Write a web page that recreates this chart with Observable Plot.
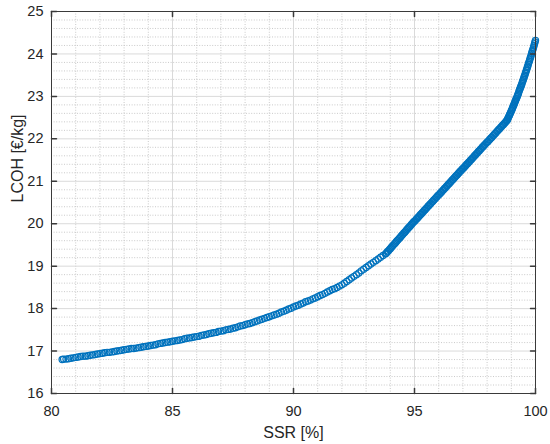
<!DOCTYPE html>
<html>
<head>
<meta charset="utf-8">
<script src="https://cdn.jsdelivr.net/npm/d3@7"></script>
<script src="https://cdn.jsdelivr.net/npm/@observablehq/plot@0.6"></script>
<style>
  html, body { margin: 0; padding: 0; background: #fff; }
  #chart { width: 550px; height: 444px; }
</style>
</head>
<body>
<div id="chart"></div>
<script>
// SSR [%] values
const ssr = [
  80.44, 80.5, 80.6, 80.7, 80.8, 80.9, 81.0, 81.1, 81.2, 81.3, 81.4, 81.5, 81.6, 81.7, 81.8, 81.9,
  82.0, 82.1, 82.2, 82.3, 82.4, 82.5, 82.6, 82.7, 82.8, 82.9, 83.0, 83.1, 83.2, 83.3, 83.4, 83.5,
  83.6, 83.7, 83.8, 83.9, 84.0, 84.1, 84.2, 84.3, 84.4, 84.5, 84.6, 84.7, 84.8, 84.9, 85.0, 85.1,
  85.2, 85.3, 85.4, 85.5, 85.6, 85.7, 85.8, 85.9, 86.0, 86.1, 86.2, 86.3, 86.4, 86.5, 86.6, 86.7,
  86.8, 86.9, 87.0, 87.1, 87.2, 87.3, 87.4, 87.5, 87.6, 87.7, 87.8, 87.9, 88.0, 88.1, 88.2, 88.3,
  88.4, 88.5, 88.6, 88.7, 88.8, 88.9, 89.0, 89.1, 89.2, 89.3, 89.4, 89.5, 89.6, 89.7, 89.8, 89.9,
  90.0, 90.1, 90.2, 90.3, 90.4, 90.5, 90.6, 90.7, 90.8, 90.9, 91.0, 91.1, 91.2, 91.3, 91.4, 91.5,
  91.6, 91.7, 91.8, 91.9, 92.0, 92.1, 92.2, 92.3, 92.4, 92.5, 92.6, 92.7, 92.8, 92.9, 93.0, 93.1,
  93.2, 93.3, 93.4, 93.5, 93.6, 93.7, 93.8,
  93.84, 93.88, 93.92, 93.96, 94.00, 94.04, 94.08, 94.12, 94.16, 94.20, 94.24, 94.28, 94.32, 94.36,
  94.40, 94.44, 94.48, 94.52, 94.56, 94.60, 94.64, 94.68, 94.72, 94.76, 94.80, 94.84, 94.88, 94.92,
  94.96, 95.00, 95.04, 95.08, 95.12, 95.16, 95.20, 95.24, 95.28, 95.32, 95.36, 95.40, 95.44, 95.48,
  95.52, 95.56, 95.60, 95.64, 95.68, 95.72, 95.76, 95.80, 95.84, 95.88, 95.92, 95.96, 96.00, 96.04,
  96.08, 96.12, 96.16, 96.20, 96.24, 96.28, 96.32, 96.36, 96.40, 96.44, 96.48, 96.52, 96.56, 96.60,
  96.64, 96.68, 96.72, 96.76, 96.80, 96.84, 96.88, 96.92, 96.96, 97.00, 97.04, 97.08, 97.12, 97.16,
  97.20, 97.24, 97.28, 97.32, 97.36, 97.40, 97.44, 97.48, 97.52, 97.56, 97.60, 97.64, 97.68, 97.72,
  97.76, 97.80, 97.84, 97.88, 97.92, 97.96, 98.00, 98.04, 98.08, 98.12, 98.16, 98.20, 98.24, 98.28,
  98.32, 98.36, 98.40, 98.44, 98.48, 98.52, 98.56, 98.60, 98.64, 98.68, 98.72, 98.76, 98.80,
  98.82, 98.84, 98.86, 98.88, 98.90, 98.92, 98.94, 98.96, 98.98, 99.00, 99.02, 99.04, 99.06, 99.08,
  99.10, 99.12, 99.14, 99.16, 99.18, 99.20, 99.22, 99.24, 99.26, 99.28, 99.30, 99.32, 99.34, 99.36,
  99.38, 99.40, 99.42, 99.44, 99.46, 99.48, 99.50, 99.52, 99.54, 99.56, 99.58, 99.60, 99.62, 99.64,
  99.66, 99.68, 99.70, 99.72, 99.74, 99.76, 99.78, 99.80, 99.82, 99.84, 99.86, 99.88, 99.90, 99.92,
  99.94, 99.96, 99.98, 100.00
];
// LCOH [€/kg] values
const lcoh = [
  16.80, 16.81, 16.81, 16.82, 16.83, 16.84, 16.85, 16.86, 16.87, 16.88, 16.88, 16.89, 16.90, 16.91, 16.92, 16.93,
  16.94, 16.95, 16.96, 16.97, 16.97, 16.98, 16.99, 17.00, 17.01, 17.02, 17.03, 17.04, 17.05, 17.06, 17.06, 17.07,
  17.08, 17.09, 17.10, 17.11, 17.12, 17.13, 17.14, 17.15, 17.17, 17.18, 17.19, 17.20, 17.21, 17.22, 17.23, 17.24,
  17.25, 17.26, 17.27, 17.29, 17.30, 17.31, 17.32, 17.33, 17.34, 17.35, 17.37, 17.38, 17.39, 17.41, 17.42, 17.43,
  17.44, 17.46, 17.47, 17.48, 17.50, 17.51, 17.52, 17.54, 17.55, 17.57, 17.59, 17.60, 17.62, 17.64, 17.65, 17.67,
  17.69, 17.71, 17.73, 17.75, 17.77, 17.79, 17.81, 17.83, 17.85, 17.87, 17.89, 17.92, 17.94, 17.96, 17.99, 18.01,
  18.04, 18.06, 18.08, 18.11, 18.13, 18.16, 18.18, 18.20, 18.23, 18.25, 18.28, 18.31, 18.33, 18.36, 18.39, 18.42,
  18.45, 18.47, 18.50, 18.53, 18.56, 18.60, 18.64, 18.68, 18.72, 18.76, 18.80, 18.84, 18.89, 18.93, 18.97, 19.01,
  19.05, 19.09, 19.13, 19.17, 19.21, 19.25, 19.29,
  19.31, 19.34, 19.36, 19.39, 19.41, 19.44, 19.47, 19.49, 19.52, 19.54, 19.57, 19.60, 19.62, 19.65,
  19.67, 19.70, 19.73, 19.75, 19.78, 19.80, 19.83, 19.86, 19.88, 19.91, 19.93, 19.96, 19.99, 20.01,
  20.04, 20.06, 20.08, 20.11, 20.13, 20.16, 20.18, 20.21, 20.23, 20.26, 20.28, 20.31, 20.33, 20.36,
  20.38, 20.41, 20.43, 20.46, 20.48, 20.51, 20.53, 20.56, 20.58, 20.61, 20.63, 20.66, 20.68, 20.70,
  20.73, 20.75, 20.78, 20.80, 20.83, 20.85, 20.88, 20.90, 20.93, 20.95, 20.98, 21.00, 21.03, 21.05,
  21.08, 21.10, 21.13, 21.15, 21.18, 21.20, 21.23, 21.25, 21.28, 21.30, 21.32, 21.35, 21.37, 21.40,
  21.42, 21.45, 21.47, 21.50, 21.52, 21.55, 21.57, 21.60, 21.62, 21.65, 21.67, 21.70, 21.72, 21.75,
  21.77, 21.80, 21.82, 21.85, 21.87, 21.90, 21.92, 21.94, 21.97, 21.99, 22.02, 22.04, 22.07, 22.09,
  22.12, 22.14, 22.17, 22.19, 22.22, 22.24, 22.27, 22.29, 22.32, 22.34, 22.37, 22.39, 22.42,
  22.43, 22.45, 22.48, 22.50, 22.53, 22.55, 22.58, 22.60, 22.63, 22.66, 22.68, 22.71, 22.74, 22.77,
  22.79, 22.82, 22.85, 22.88, 22.91, 22.94, 22.96, 22.99, 23.02, 23.05, 23.08, 23.12, 23.15, 23.18,
  23.21, 23.24, 23.27, 23.30, 23.34, 23.37, 23.40, 23.44, 23.47, 23.50, 23.54, 23.57, 23.61, 23.64,
  23.68, 23.71, 23.75, 23.79, 23.82, 23.86, 23.90, 23.93, 23.97, 24.01, 24.05, 24.08, 24.12, 24.16,
  24.20, 24.24, 24.28, 24.32
];
const xTicks = [80, 85, 90, 95, 100];
const yTicks = [16, 17, 18, 19, 20, 21, 22, 23, 24, 25];
const xMinor = [81, 82, 83, 84, 86, 87, 88, 89, 91, 92, 93, 94, 96, 97, 98, 99];
const yMinor = [
  16.2, 16.4, 16.6, 16.8, 17.2, 17.4, 17.6, 17.8, 18.2, 18.4, 18.6, 18.8,
  19.2, 19.4, 19.6, 19.8, 20.2, 20.4, 20.6, 20.8, 21.2, 21.4, 21.6, 21.8,
  22.2, 22.4, 22.6, 22.8, 23.2, 23.4, 23.6, 23.8, 24.2, 24.4, 24.6, 24.8
];
const xLabel = "SSR [%]";
const yLabel = "LCOH [€/kg]";

const data = ssr.map((s, i) => ({ssr: s, lcoh: lcoh[i]}));

const axisColor = "#262626";
const boxColor = "#3a3a3a";
const tickLine = {draw(context, l) { context.moveTo(0, 0); context.lineTo(0, -l); }};
const xMin = xTicks[0], xMax = xTicks[xTicks.length - 1];
const yMin = yTicks[0], yMax = yTicks[yTicks.length - 1];

const chart = Plot.plot({
  width: 550,
  height: 444,
  marginLeft: 51,
  marginRight: 15,
  marginTop: 11,
  marginBottom: 51,
  x: {domain: [xMin, xMax], label: null},
  y: {domain: [yMin, yMax], label: null},
  style: {
    fontFamily: "'Liberation Sans', Arial, Helvetica, sans-serif",
    fontSize: "14.5px",
    color: axisColor,
    background: "#ffffff",
    overflow: "visible"
  },
  marks: [
    Plot.ruleX(xMinor, {stroke: "#bcbcbc", strokeWidth: 0.8, strokeDasharray: "1,1.6"}),
    Plot.ruleY(yMinor, {stroke: "#bcbcbc", strokeWidth: 0.8, strokeDasharray: "1,1.6"}),
    Plot.ruleX(xTicks, {stroke: "#dadada", strokeWidth: 1}),
    Plot.ruleY(yTicks, {stroke: "#dadada", strokeWidth: 1}),
    Plot.dot(data, {x: "ssr", y: "lcoh", r: 3.1, stroke: "#0072BD", fill: "none", strokeWidth: 1.2}),
    Plot.frame({stroke: boxColor, strokeWidth: 1}),
    // inward ticks on all four sides (MATLAB box style)
    Plot.vector(xTicks, {x: d => d, y: yMin, length: 5, rotate: 0, anchor: "start", shape: tickLine, stroke: boxColor}),
    Plot.vector(xTicks, {x: d => d, y: yMax, length: 5, rotate: 180, anchor: "start", shape: tickLine, stroke: boxColor}),
    Plot.vector(yTicks, {y: d => d, x: xMin, length: 5, rotate: 90, anchor: "start", shape: tickLine, stroke: boxColor}),
    Plot.vector(yTicks, {y: d => d, x: xMax, length: 5, rotate: -90, anchor: "start", shape: tickLine, stroke: boxColor}),
    Plot.axisX({ticks: xTicks, anchor: "bottom", tickSize: 0, tickPadding: 12, label: null, tickFormat: d => String(d), fill: axisColor, fontSize: 14.5}),
    Plot.axisY({ticks: yTicks, anchor: "left", tickSize: 0, tickPadding: 8, label: null, tickFormat: d => String(d), fill: axisColor, fontSize: 14.5}),
    Plot.text([xLabel], {frameAnchor: "bottom", dy: 39, text: d => d, lineAnchor: "middle", fill: axisColor, fontSize: 16}),
    Plot.text([yLabel], {frameAnchor: "left", dx: -34, rotate: -90, text: d => d, lineAnchor: "middle", fill: axisColor, fontSize: 16})
  ]
});
document.getElementById("chart").appendChild(chart);
</script>
</body>
</html>
